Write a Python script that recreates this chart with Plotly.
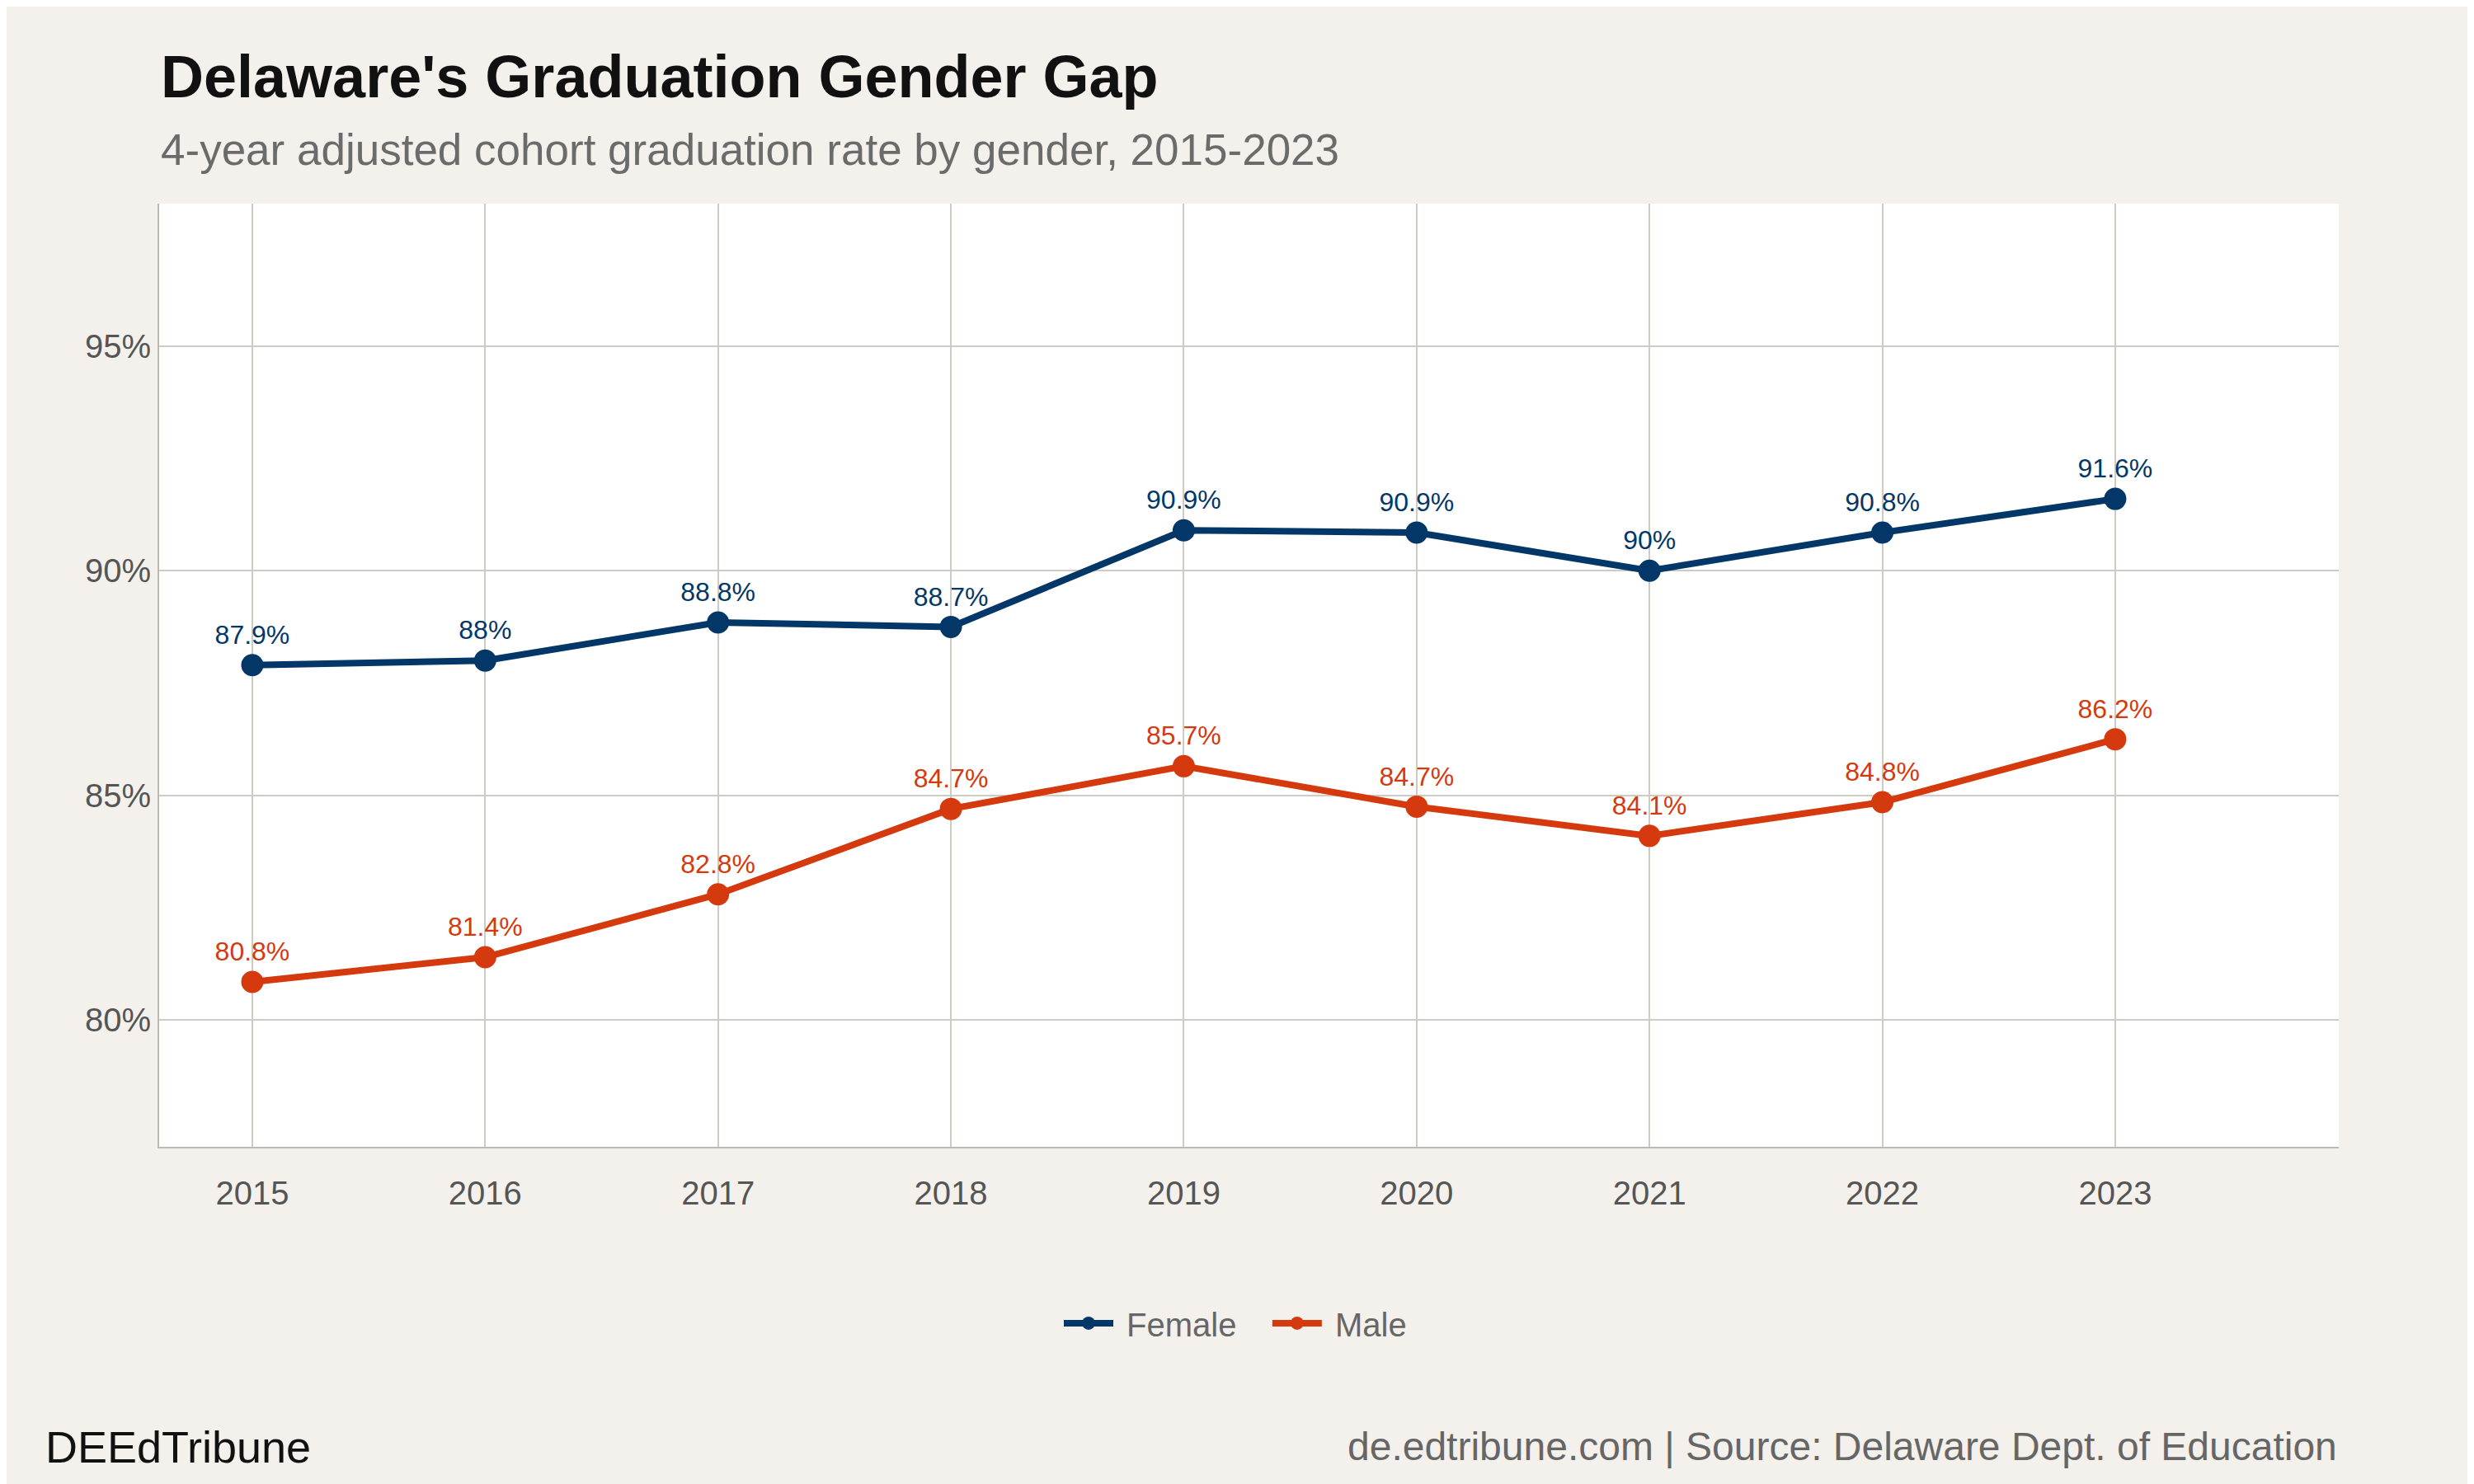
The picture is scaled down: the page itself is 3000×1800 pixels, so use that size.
import plotly.graph_objects as go

years = [2015, 2016, 2017, 2018, 2019, 2020, 2021, 2022, 2023]
female = [87.9, 88.0, 88.85, 88.75, 90.9, 90.85, 90.0, 90.85, 91.6]
male = [80.85, 81.4, 82.8, 84.7, 85.65, 84.75, 84.1, 84.85, 86.25]
female_labels = ["87.9%", "88%", "88.8%", "88.7%", "90.9%", "90.9%", "90%", "90.8%", "91.6%"]
male_labels = ["80.8%", "81.4%", "82.8%", "84.7%", "85.7%", "84.7%", "84.1%", "84.8%", "86.2%"]

NAVY = "#033767"
RED = "#D5390E"
FONT = "Liberation Sans"

fig = go.Figure()
for name, vals, labels, col in [("Female", female, female_labels, NAVY), ("Male", male, male_labels, RED)]:
    fig.add_trace(go.Scatter(
        x=years, y=vals, name=" " + name + "   ", mode="lines+markers+text",
        text=labels, textposition="top center",
        textfont=dict(family=FONT, size=32, color=col),
        line=dict(color=col, width=8), marker=dict(color=col, size=27),
    ))

fig.update_layout(
    width=3000, height=1800,
    paper_bgcolor="#F4F1EC", plot_bgcolor="white",
    margin=dict(l=185, r=172, t=239, b=417),
    font=dict(family=FONT, color="#666666", size=40),
    showlegend=True,
    legend=dict(orientation="h", x=0.5, xanchor="center", y=-0.187, yanchor="middle",
                font=dict(size=40, color="#666666"), bgcolor="rgba(0,0,0,0)",
                itemwidth=60),
    xaxis=dict(range=[2014.6, 2023.96], tickvals=years, ticktext=[str(y) for y in years],
               showgrid=True, gridcolor="#CFCBC4", gridwidth=2, zeroline=False,
               showline=True, linecolor="#BDB9B2", linewidth=2, ticks="",
               tickfont=dict(size=40, color="#555555"), ticklabelstandoff=20),
    yaxis=dict(range=[77.18, 98.17], tickvals=[80, 85, 90, 95], ticktext=["80%", "85%", "90%", "95%"],
               showgrid=True, gridcolor="#CFCBC4", gridwidth=2, zeroline=False,
               showline=True, linecolor="#BDB9B2", linewidth=2, ticks="",
               tickfont=dict(size=40, color="#555555")),
    annotations=[
        dict(text="<b>Delaware's Graduation Gender Gap</b>", xref="paper", yref="paper", x=0.0, y=1.135,
             xanchor="left", yanchor="middle", showarrow=False, font=dict(size=72, color="#111111")),
        dict(text="4-year adjusted cohort graduation rate by gender, 2015-2023", xref="paper", yref="paper",
             x=0.0, y=1.057, xanchor="left", yanchor="middle", showarrow=False,
             font=dict(size=53, color="#6B6B6B")),
        dict(text="DEEdTribune", xref="paper", yref="paper", x=-0.053, y=-0.318,
             xanchor="left", yanchor="middle", showarrow=False, font=dict(size=54, color="#111111")),
        dict(text="de.edtribune.com | Source: Delaware Dept. of Education", xref="paper", yref="paper",
             x=1.0, y=-0.318, xanchor="right", yanchor="middle", showarrow=False,
             font=dict(size=48, color="#666666")),
    ],
)
fig.write_html("out.html")
